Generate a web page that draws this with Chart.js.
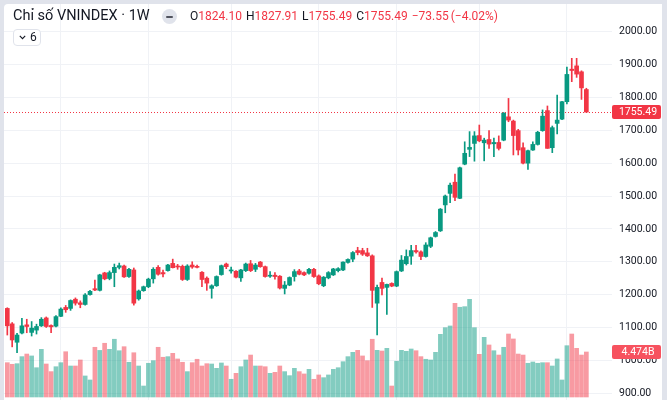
<!DOCTYPE html>
<html>
<head>
<meta charset="utf-8">
<title>Chỉ số VNINDEX · 1W</title>
<script src="https://cdn.jsdelivr.net/npm/chart.js@4.4.1/dist/chart.umd.min.js"></script>
<style>
    html, body { margin: 0; padding: 0; }
    body {
        width: 667px; height: 400px; overflow: hidden; position: relative;
        background: #e0e3eb;
        font-family: Roboto, 'Noto Sans', 'DejaVu Sans', sans-serif;
        color: #131722;
    }
    #panel {
        position: absolute; left: 4px; top: 4px; width: 658px; height: 396px;
        background: #ffffff; border-top-left-radius: 4px; overflow: hidden;
    }
    #panel canvas { position: absolute; left: 0; top: 0; }
    #title {
        position: absolute; left: 13px; top: 7px; font-size: 14.5px; line-height: 18px;
        white-space: nowrap;
    }
    #badge {
        position: absolute; left: 162px; top: 9px; width: 15px; height: 15px;
        border-radius: 50%; background: #e0e3eb;
    }
    #badge span {
        position: absolute; left: 4px; top: 6.5px; width: 7px; height: 2px;
        border-radius: 1px; background: #50535e;
    }
    #ohlc {
        position: absolute; left: 190px; top: 9px; font-size: 12px; line-height: 14px;
        white-space: nowrap;
    }
    #ohlc .item { margin-right: 4px; }
    #ohlc .chg { margin-right: 2px; }
    #ohlc .k { color: #131722; }
    #ohlc .v { color: #f23645; }
    #interval {
        position: absolute; left: 13px; top: 29px; width: 26px; height: 15px;
        border: 1px solid #e0e3eb; border-radius: 4px; background: #fff;
        font-size: 12px; line-height: 15px;
    }
    #interval svg { position: absolute; left: 5px; top: 5px; }
    #interval span { position: absolute; left: 16px; top: 0; }
</style>
</head>
<body>
<div id="panel"><canvas id="vnindex-chart" width="658" height="396"></canvas></div>
<div id="title">Chỉ số VNINDEX · 1W</div>
<div id="badge"><span></span></div>
<div id="ohlc"></div>
<div id="interval">
    <svg width="7" height="5" viewBox="0 0 7 5"><path d="M0.8 0.8 L3.5 3.6 L6.2 0.8" fill="none" stroke="#131722" stroke-width="1.1"/></svg>
    <span>6</span>
</div>

<script>
// Weekly candles, oldest first (120 weeks)
const opens = [
    1158, 1111, 1055, 1083, 1108, 1085, 1092, 1105, 1129, 1106,
    1104, 1134, 1161, 1158, 1186, 1175, 1170, 1200, 1218, 1213,
    1266, 1249, 1267, 1283, 1287, 1255, 1275, 1187, 1212, 1224,
    1248, 1283, 1267, 1273, 1295, 1287, 1286, 1246, 1290, 1286,
    1268, 1250, 1219, 1227, 1261, 1293, 1272, 1271, 1251, 1273,
    1294, 1277, 1299, 1285, 1256, 1259, 1256, 1219, 1229, 1255,
    1272, 1267, 1265, 1277, 1257, 1227, 1251, 1260, 1273, 1275,
    1298, 1308, 1334, 1334, 1327, 1318, 1174, 1237, 1222, 1234,
    1226, 1272, 1294, 1317, 1334, 1330, 1316, 1347, 1377, 1394,
    1473, 1508, 1542, 1493, 1597, 1642, 1660, 1684, 1662, 1672,
    1659, 1663, 1670, 1741, 1728, 1699, 1647, 1600, 1640, 1657,
    1699, 1760, 1647, 1721, 1734, 1787, 1886, 1896, 1878, 1824.10
];
const highs = [
    1160, 1115, 1082, 1128, 1125, 1118, 1110, 1130, 1132, 1108,
    1136, 1160, 1167, 1184, 1190, 1181, 1203, 1213, 1244, 1262,
    1268, 1272, 1293, 1296, 1290, 1280, 1281, 1214, 1226, 1250,
    1282, 1288, 1275, 1292, 1308, 1292, 1290, 1291, 1300, 1290,
    1270, 1254, 1230, 1257, 1290, 1296, 1284, 1273, 1277, 1296,
    1304, 1295, 1301, 1287, 1270, 1267, 1258, 1240, 1254, 1276,
    1277, 1269, 1280, 1280, 1260, 1255, 1270, 1280, 1282, 1300,
    1309, 1331, 1344, 1341, 1341, 1321, 1229, 1250, 1232, 1236,
    1272, 1319, 1336, 1350, 1350, 1333, 1358, 1375, 1392, 1462,
    1503, 1539, 1567, 1588, 1665, 1696, 1696, 1716, 1676, 1699,
    1676, 1683, 1754, 1797, 1731, 1703, 1662, 1640, 1665, 1697,
    1762, 1774, 1713, 1807, 1788, 1892, 1919, 1919, 1881, 1827.91
];
const lows = [
    1077, 1041, 1023, 1080, 1084, 1074, 1080, 1103, 1100, 1084,
    1102, 1133, 1146, 1152, 1168, 1160, 1168, 1198, 1212, 1211,
    1245, 1245, 1224, 1278, 1252, 1252, 1168, 1183, 1210, 1221,
    1235, 1259, 1254, 1271, 1281, 1277, 1243, 1243, 1280, 1281,
    1224, 1213, 1189, 1225, 1259, 1279, 1265, 1251, 1240, 1270,
    1270, 1270, 1283, 1253, 1252, 1247, 1217, 1202, 1227, 1241,
    1260, 1258, 1262, 1252, 1230, 1224, 1248, 1258, 1269, 1273,
    1296, 1300, 1321, 1319, 1316, 1161, 1077, 1199, 1140, 1224,
    1224, 1270, 1290, 1292, 1326, 1306, 1314, 1343, 1375, 1392,
    1449, 1480, 1486, 1492, 1595, 1620, 1606, 1665, 1607, 1645,
    1620, 1640, 1668, 1726, 1625, 1625, 1598, 1581, 1639, 1655,
    1697, 1645, 1632, 1689, 1732, 1780, 1848, 1861, 1794, 1755.49
];
const closes = [
    1105, 1062, 1077, 1105, 1103, 1098, 1103, 1125, 1103, 1102,
    1133, 1156, 1154, 1182, 1174, 1170, 1199, 1210, 1214, 1260,
    1248, 1267, 1283, 1288, 1254, 1277, 1174, 1211, 1224, 1247,
    1277, 1262, 1263, 1290, 1282, 1284, 1246, 1287, 1284, 1283,
    1246, 1235, 1227, 1255, 1288, 1285, 1275, 1253, 1275, 1293,
    1273, 1290, 1285, 1255, 1259, 1255, 1220, 1229, 1252, 1270,
    1262, 1260, 1277, 1255, 1233, 1253, 1267, 1278, 1279, 1299,
    1307, 1328, 1328, 1323, 1318, 1213, 1222, 1219, 1231, 1226,
    1270, 1305, 1316, 1334, 1330, 1316, 1351, 1373, 1389, 1460,
    1500, 1533, 1496, 1586, 1630, 1648, 1683, 1668, 1670, 1658,
    1663, 1645, 1752, 1731, 1684, 1640, 1600, 1638, 1657, 1694,
    1743, 1645, 1708, 1731, 1787, 1870, 1882, 1871, 1829.04, 1755.49
];
// Weekly volume, billions of shares
const volumes = [
    3.41, 3.25, 3.31, 4.01, 4.27, 4.08, 2.91, 4.74, 3.28, 2.52,
    3.01, 3.41, 4.50, 3.08, 3.08, 3.68, 2.09, 1.69, 4.94, 4.63,
    5.34, 4.74, 5.74, 4.60, 5.00, 3.45, 4.40, 3.08, 1.09, 3.35,
    3.61, 4.94, 3.95, 4.01, 4.34, 3.78, 3.45, 2.52, 3.41, 3.75,
    3.08, 3.31, 3.28, 2.85, 3.38, 3.08, 1.76, 2.35, 3.01, 3.68,
    4.17, 3.08, 3.08, 3.01, 2.35, 2.45, 3.08, 2.52, 2.12, 2.85,
    2.52, 2.29, 2.75, 1.76, 2.19, 1.92, 2.19, 2.75, 2.91, 3.51,
    4.01, 4.44, 4.64, 4.08, 3.61, 5.74, 4.64, 4.57, 4.84, 1.09,
    3.55, 4.64, 4.54, 4.77, 4.60, 4.01, 3.75, 3.68, 4.44, 6.23,
    6.89, 7.06, 9.31, 8.92, 8.98, 9.71, 6.89, 4.24, 5.93, 5.17,
    4.60, 4.17, 4.94, 6.26, 5.77, 4.27, 4.17, 3.35, 3.48, 3.35,
    3.41, 3.41, 3.08, 3.78, 1.69, 5.10, 6.26, 4.84, 4.17, 4.474
];
// Price axis ticks and week positions of the vertical grid lines
const priceTicks = [900, 1000, 1100, 1200, 1300, 1400, 1500, 1600, 1700, 1800, 1900, 2000];
const gridWeeks = [11, 29, 46, 64, 80, 97, 115];

const UP = '#089981';
const DOWN = '#f23645';
const VOL_UP = 'rgba(8, 153, 129, 0.5)';
const VOL_DOWN = 'rgba(242, 54, 69, 0.5)';
const GRID = '#f0f2f6';
const AXIS_FONT = { family: 'Roboto', size: 10.5 };

const weeks = closes.map((c, i) => i);
const isUp = i => closes[i] >= opens[i];
const candleColors = weeks.map(i => isUp(i) ? UP : DOWN);
const last = closes.length - 1;

// Legend line: O H L C change (pct)
function fmtSigned(v) {
    return (v < 0 ? '\u2212' : '+') + Math.abs(v).toFixed(2);
}
const change = closes[last] - closes[last - 1];
const pct = change / closes[last - 1] * 100;
const ohlcEl = document.getElementById('ohlc');
ohlcEl.innerHTML = [
    ['O', opens[last]], ['H', highs[last]], ['L', lows[last]], ['C', closes[last]]
].map(([k, v]) => `<span class="item"><span class="k">${k}</span><span class="v">${v.toFixed(2)}</span></span>`).join('')
    + `<span class="item chg v">${fmtSigned(change)}</span>`
    + `<span class="item chg v">(${fmtSigned(pct)}%)</span>`;

// Last price line + axis tags
const lastValuePlugin = {
    id: 'lastValue',
    beforeDatasetsDraw(chart) {
        const { ctx, chartArea, scales } = chart;
        const y = Math.round(scales.y.getPixelForValue(closes[last])) + 0.5;
        ctx.save();
        ctx.strokeStyle = candleColors[last];
        ctx.lineWidth = 1;
        ctx.setLineDash([1, 2]);
        ctx.beginPath();
        ctx.moveTo(chartArea.left, y);
        ctx.lineTo(chartArea.right, y);
        ctx.stroke();
        ctx.restore();
    },
    afterDraw(chart) {
        const { ctx, chartArea, scales } = chart;
        const tag = (y, text, color) => {
            const x0 = chartArea.right, w = 49, h = 14;
            ctx.save();
            ctx.fillStyle = color;
            ctx.beginPath();
            ctx.roundRect(x0, Math.round(y - h / 2), w, h, 2);
            ctx.fill();
            ctx.fillStyle = '#ffffff';
            ctx.font = `${AXIS_FONT.size}px ${AXIS_FONT.family}`;
            ctx.textAlign = 'center';
            ctx.textBaseline = 'middle';
            ctx.fillText(text, x0 + 26, Math.round(y) + 0.5);
            ctx.restore();
        };
        tag(scales.yVol.getPixelForValue(volumes[last]), volumes[last].toFixed(3) + 'B', '#f7525f');
        tag(scales.y.getPixelForValue(closes[last]), closes[last].toFixed(2), candleColors[last]);
    }
};

const noPad = s => { s.paddingTop = 0; s.paddingBottom = 0; s.paddingLeft = 0; s.paddingRight = 0; };

const ctx = document.getElementById('vnindex-chart').getContext('2d');
const chart = new Chart(ctx, {
    type: 'bar',
    data: {
        datasets: [
            {
                label: 'Volume',
                yAxisID: 'yVol',
                data: weeks.map(i => ({ x: i, y: volumes[i] })),
                backgroundColor: weeks.map(i => isUp(i) ? VOL_UP : VOL_DOWN),
                barThickness: 4,
                grouped: false,
                order: 3
            },
            {
                label: 'Wick',
                yAxisID: 'y',
                data: weeks.map(i => ({ x: i, y: [lows[i], highs[i]] })),
                backgroundColor: candleColors,
                barThickness: 1,
                grouped: false,
                order: 2
            },
            {
                label: 'Body',
                yAxisID: 'y',
                data: weeks.map(i => ({ x: i, y: [opens[i], closes[i]] })),
                backgroundColor: candleColors,
                barThickness: 4,
                minBarLength: 1,
                grouped: false,
                order: 1
            }
        ]
    },
    options: {
        responsive: false,
        animation: false,
        events: [],
        layout: { padding: 0 },
        plugins: { legend: { display: false }, tooltip: { enabled: false } },
        scales: {
            x: {
                type: 'linear',
                min: -0.68,
                max: 124.27,
                offset: false,
                grid: { color: GRID, drawTicks: false, offset: false },
                border: { display: false },
                ticks: { display: false },
                afterBuildTicks: s => { s.ticks = gridWeeks.map(v => ({ value: v })); },
                afterFit: s => { s.height = 0; noPad(s); }
            },
            y: {
                position: 'right',
                min: 879.3,
                max: 2084.3,
                grid: { color: GRID, drawTicks: false },
                border: { display: false },
                ticks: {
                    color: '#131722',
                    font: AXIS_FONT,
                    padding: 7,
                    callback: v => Number(v).toFixed(2)
                },
                afterBuildTicks: s => { s.ticks = priceTicks.map(v => ({ value: v })); },
                afterFit: s => { s.width = 50; noPad(s); }
            },
            yVol: {
                display: false,
                min: -0.3,
                max: 39.07
            }
        }
    },
    plugins: [lastValuePlugin]
});
</script>
</body>
</html>
